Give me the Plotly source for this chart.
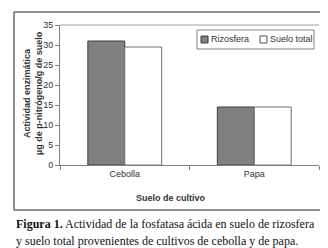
import plotly.graph_objects as go

categories = ["Cebolla", "Papa"]
series_names = ["Rizosfera", "Suelo total"]
rizosfera = [31.0, 14.5]
suelo_total = [29.5, 14.5]
y_ticks = [0, 5, 10, 15, 20, 25, 30, 35]

W, H = 328, 248
L, R, T, B = 52, 17, 17, 91
pw, ph = W - L - R, H - T - B

def px(x):
    return (x - L) / pw

def py(y):
    return (H - B - y) / ph

fig = go.Figure()
fig.add_trace(go.Bar(x=categories, y=rizosfera, name=series_names[0],
                     marker=dict(color="#808080", line=dict(color="#3c3c50", width=1)),
                     showlegend=False))
fig.add_trace(go.Bar(x=categories, y=suelo_total, name=series_names[1],
                     marker=dict(color="#ffffff", line=dict(color="#707070", width=1)),
                     showlegend=False))

tickfont = dict(family="Liberation Sans, Arial", size=9, color="#333333")

fig.update_layout(
    width=W, height=H,
    margin=dict(l=L, r=R, t=T, b=B),
    paper_bgcolor="white", plot_bgcolor="white",
    barmode="group", bargap=0.43, bargroupgap=0,
    font=dict(family="Liberation Sans, Arial", size=9, color="#333333"),
    xaxis=dict(showgrid=False, showline=True, linecolor="#808080", linewidth=1,
               ticks="outside", tickson="boundaries", ticklen=4, tickcolor="#808080",
               tickfont=tickfont, zeroline=False),
    yaxis=dict(range=[0, 35], tickvals=y_ticks, showgrid=False, showline=True,
               linecolor="#808080", linewidth=1, ticks="outside", ticklen=4,
               tickcolor="#808080", tickfont=tickfont, zeroline=False),
)

shapes = []
# plot top border
shapes.append(dict(type="line", xref="paper", yref="paper", x0=0, x1=1, y0=1, y1=1,
                   line=dict(color="#a0a0a0", width=1)))
# outer frame
shapes.append(dict(type="rect", xref="paper", yref="paper",
                   x0=px(6), x1=px(320), y0=py(202), y1=py(4),
                   line=dict(color="#222222", width=1)))
# legend box
shapes.append(dict(type="rect", xref="paper", yref="paper",
                   x0=px(189), x1=px(306), y0=py(41), y1=py(22),
                   line=dict(color="#808080", width=1), fillcolor="white"))
# legend swatches
leg_sw = [(193, "#808080", "#3c3c50"), (252, "#ffffff", "#555555")]
for (xs, fc, lc) in leg_sw:
    shapes.append(dict(type="rect", xref="paper", yref="paper",
                       x0=px(xs), x1=px(xs + 7), y0=py(35), y1=py(28),
                       line=dict(color=lc, width=1), fillcolor=fc))
fig.update_layout(shapes=shapes)

ann = []
for xs, name in zip([201, 260], series_names):
    ann.append(dict(x=px(xs), y=py(31.5), xref="paper", yref="paper", text=name,
                    showarrow=False, xanchor="left", yanchor="middle",
                    font=dict(size=9, color="#333333")))
ann.append(dict(x=px(25), y=py(85), xref="paper", yref="paper",
                text="<b>Actividad enzimática<br>µg de p-nitrógeno/g de suelo</b>",
                textangle=-90, showarrow=False, xanchor="center", yanchor="middle",
                font=dict(size=9, color="#333333")))
ann.append(dict(x=px(163), y=py(190), xref="paper", yref="paper",
                text="<b>Suelo de cultivo</b>", showarrow=False,
                xanchor="center", yanchor="middle", font=dict(size=9, color="#333333")))
capfont = dict(family="Liberation Serif, Times New Roman, serif", size=12, color="#111111")
ann.append(dict(x=px(6), y=py(216), xref="paper", yref="paper",
                text="<b>Figura 1.</b> Actividad de la fosfatasa ácida en suelo de rizosfera",
                showarrow=False, xanchor="left", yanchor="middle", font=capfont))
ann.append(dict(x=px(6), y=py(233), xref="paper", yref="paper",
                text="y suelo total provenientes de cultivos de cebolla y de papa.",
                showarrow=False, xanchor="left", yanchor="middle", font=capfont))
fig.update_layout(annotations=ann)

fig.write_html("out.html")
